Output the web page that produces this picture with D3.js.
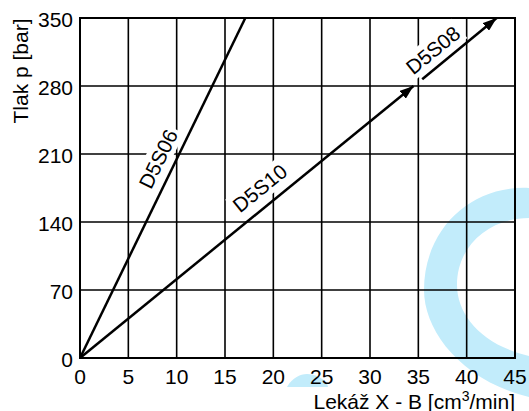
<!DOCTYPE html>
<html><head><meta charset="utf-8">
<script src="https://cdn.jsdelivr.net/npm/d3@7"></script>
<style>
html,body{margin:0;padding:0;background:#fff;}
svg{display:block;font-family:"Liberation Sans",Arial,Helvetica,sans-serif;}
</style></head>
<body>
<svg id="chart" width="529" height="411"></svg>
<script>
const xTicks = [0,5,10,15,20,25,30,35,40,45];
const yTicks = [0,70,140,210,280,350];
const d5s06 = [[0,0],[17.1,350]];
const d5s10 = [[0,0],[34.5,280]];
const d5s08 = [[35.4,287],[43.1,350]];
const labels = [
  {text:"D5S06", x:8.07, y:205, angle:-64},
  {text:"D5S10", x:18.6, y:175, angle:-39},
  {text:"D5S08", x:36.5, y:317, angle:-39}
];
const xTitle = "Lekáž X - B [cm";
const yTitle = "Tlak p [bar]";

const svg = d3.select("#chart");
const x = d3.scaleLinear().domain([0,45]).range([80,515]);
const y = d3.scaleLinear().domain([0,350]).range([358,18]);

// watermark
svg.append("path")
  .attr("d","M529,188 C470,185 424,230 424,290 C424,330 460,380 529,397 L529,356 C482,345 457,315 457,285 C457,245 490,218 529,218 Z")
  .attr("fill","#c2ecfb");
svg.append("path")
  .attr("d","M287,387 C292,378 300,374 307,374 C315,374 322,378 327,383 L328,387 Z")
  .attr("fill","#c2ecfb");

// grid
const g = svg.append("g");
g.selectAll(".vx").data(xTicks).join("line")
  .attr("x1",d=>x(d)).attr("x2",d=>x(d)).attr("y1",y(0)).attr("y2",y(350))
  .attr("stroke","#000").attr("stroke-width",1.6);
g.selectAll(".hy").data(yTicks).join("line")
  .attr("y1",d=>y(d)).attr("y2",d=>y(d)).attr("x1",x(0)).attr("x2",x(45))
  .attr("stroke","#000").attr("stroke-width",1.6);
svg.append("rect").attr("x",x(0)).attr("y",y(350)).attr("width",x(45)-x(0)).attr("height",y(0)-y(350))
  .attr("fill","none").attr("stroke","#000").attr("stroke-width",2);

// label backgrounds + labels
labels.forEach(l=>{
  const lg = svg.append("g").attr("transform",`translate(${x(l.x)},${y(l.y)}) rotate(${l.angle})`);
  const t = lg.append("text").attr("text-anchor","middle").attr("dy","0.36em")
    .attr("font-size",20.5).attr("fill","#000").text(l.text);
  const bb = t.node().getBBox();
  lg.insert("rect","text").attr("x",bb.x-3).attr("y",bb.y-1).attr("width",bb.width+6).attr("height",bb.height+2).attr("fill","#fff");
});

// arrow marker
const defs = svg.append("defs");
defs.append("marker").attr("id","arr").attr("viewBox","0 0 14 10").attr("refX",14).attr("refY",5)
  .attr("markerWidth",14).attr("markerHeight",10).attr("markerUnits","userSpaceOnUse").attr("orient","auto")
  .append("path").attr("d","M0,0 L14,5 L0,10 Z").attr("fill","#000");

const line = d3.line().x(d=>x(d[0])).y(d=>y(d[1]));
svg.append("path").attr("d",line(d5s06)).attr("fill","none").attr("stroke","#000").attr("stroke-width",2.5);
svg.append("path").attr("d",line(d5s10)).attr("fill","none").attr("stroke","#000").attr("stroke-width",2.5).attr("marker-end","url(#arr)");
svg.append("path").attr("d",line(d5s08)).attr("fill","none").attr("stroke","#000").attr("stroke-width",2.5).attr("marker-end","url(#arr)");

// tick labels
svg.selectAll(".xt").data(xTicks).join("text")
  .attr("x",d=>x(d)).attr("y",384).attr("text-anchor","middle").attr("font-size",21).text(d=>d);
svg.selectAll(".yt").data(yTicks).join("text")
  .attr("x",73).attr("y",d=>y(d)+9).attr("text-anchor","end").attr("font-size",21).text(d=>d);

// titles
const xt = svg.append("text").attr("x",515).attr("y",408.5).attr("text-anchor","end").attr("font-size",21);
xt.append("tspan").text(xTitle);
xt.append("tspan").attr("font-size",14).attr("dy",-8).text("3");
xt.append("tspan").attr("dy",8).text("/min]");
svg.append("text").attr("transform","translate(28,71) rotate(-90)").attr("text-anchor","middle").attr("font-size",21).text(yTitle);
</script>
</body></html>
